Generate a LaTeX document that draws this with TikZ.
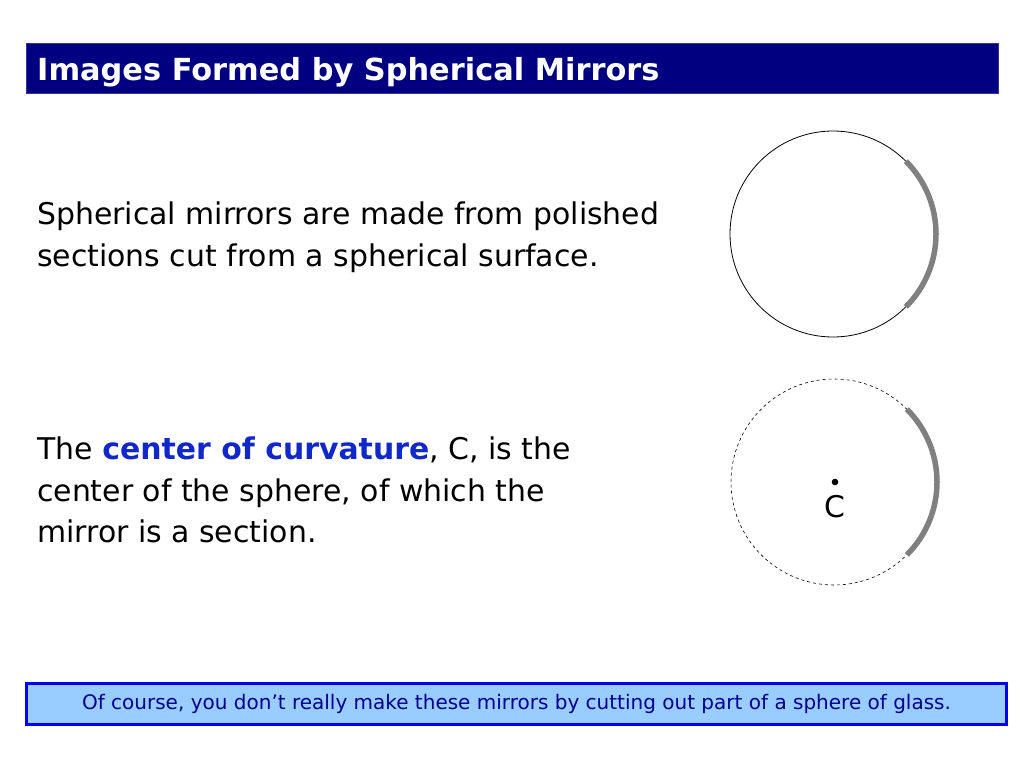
\documentclass[tikz,border=0pt]{standalone}
\usepackage{fontspec}
\setmainfont{DejaVu Sans}
\definecolor{titlenavy}{RGB}{0,0,128}
\definecolor{keyblue}{RGB}{16,40,200}
\definecolor{boxblue}{RGB}{0,0,240}
\definecolor{boxfill}{RGB}{153,204,255}
\definecolor{notenavy}{RGB}{0,0,140}
\definecolor{mirrorgray}{RGB}{128,128,128}
\begin{document}
\begin{tikzpicture}[x=1pt,y=-1pt,
    bodytext/.style={anchor=north west,inner sep=0,align=left,
      font=\fontsize{29.9}{41.5}\selectfont},
    sphere/.style={line width=0.8pt},
    mirror/.style={line width=5.5pt,draw=mirrorgray}]
  \useasboundingbox[fill=white] (0,0) rectangle (1024,768);
  % title bar
  \node[draw=titlenavy!80!white,fill=titlenavy,minimum width=972,minimum height=50,
    inner sep=0] (bar) at (512,68) {};
  \node[anchor=base west,inner sep=0,text=white,
    font=\fontsize{30.4}{36}\selectfont\bfseries] (title) at (37,81)
    {Images Formed by Spherical Mirrors};
  % text
  \node[bodytext] (para1) at (37,202)
    {Spherical mirrors are made from polished\\sections cut from a spherical surface.};
  \node[bodytext] (para2) at (37,437)
    {The \textcolor{keyblue}{\bfseries center of curvature}, C, is the\\
     center of the sphere, of which the\\mirror is a section.};
  % spheres
  \coordinate (c1) at (833,234);
  \coordinate (c2) at (834,482);
  \draw[sphere] (c1) circle[radius=103];
  \draw[mirror] (c1) ++(-45:103) arc[start angle=-45,end angle=45,radius=103];
  \draw[sphere,dashed,line width=0.6pt] (c2) circle[radius=103];
  \draw[mirror] (c2) ++(-45:103) arc[start angle=-45,end angle=45,radius=103];
  \fill (835,482) circle[radius=3.3];
  \node[font=\fontsize{29.9}{36}\selectfont,inner sep=0] (clabel) at (835,507) {C};
  % note box
  \node[draw=boxblue,line width=3pt,fill=boxfill,minimum width=980,minimum height=41,
    inner sep=0,text=notenavy,font=\fontsize{20}{24}\selectfont] (note) at (516.5,704)
    {Of course, you don’t really make these mirrors by cutting out part of a sphere of glass.};
\end{tikzpicture}
\end{document}
